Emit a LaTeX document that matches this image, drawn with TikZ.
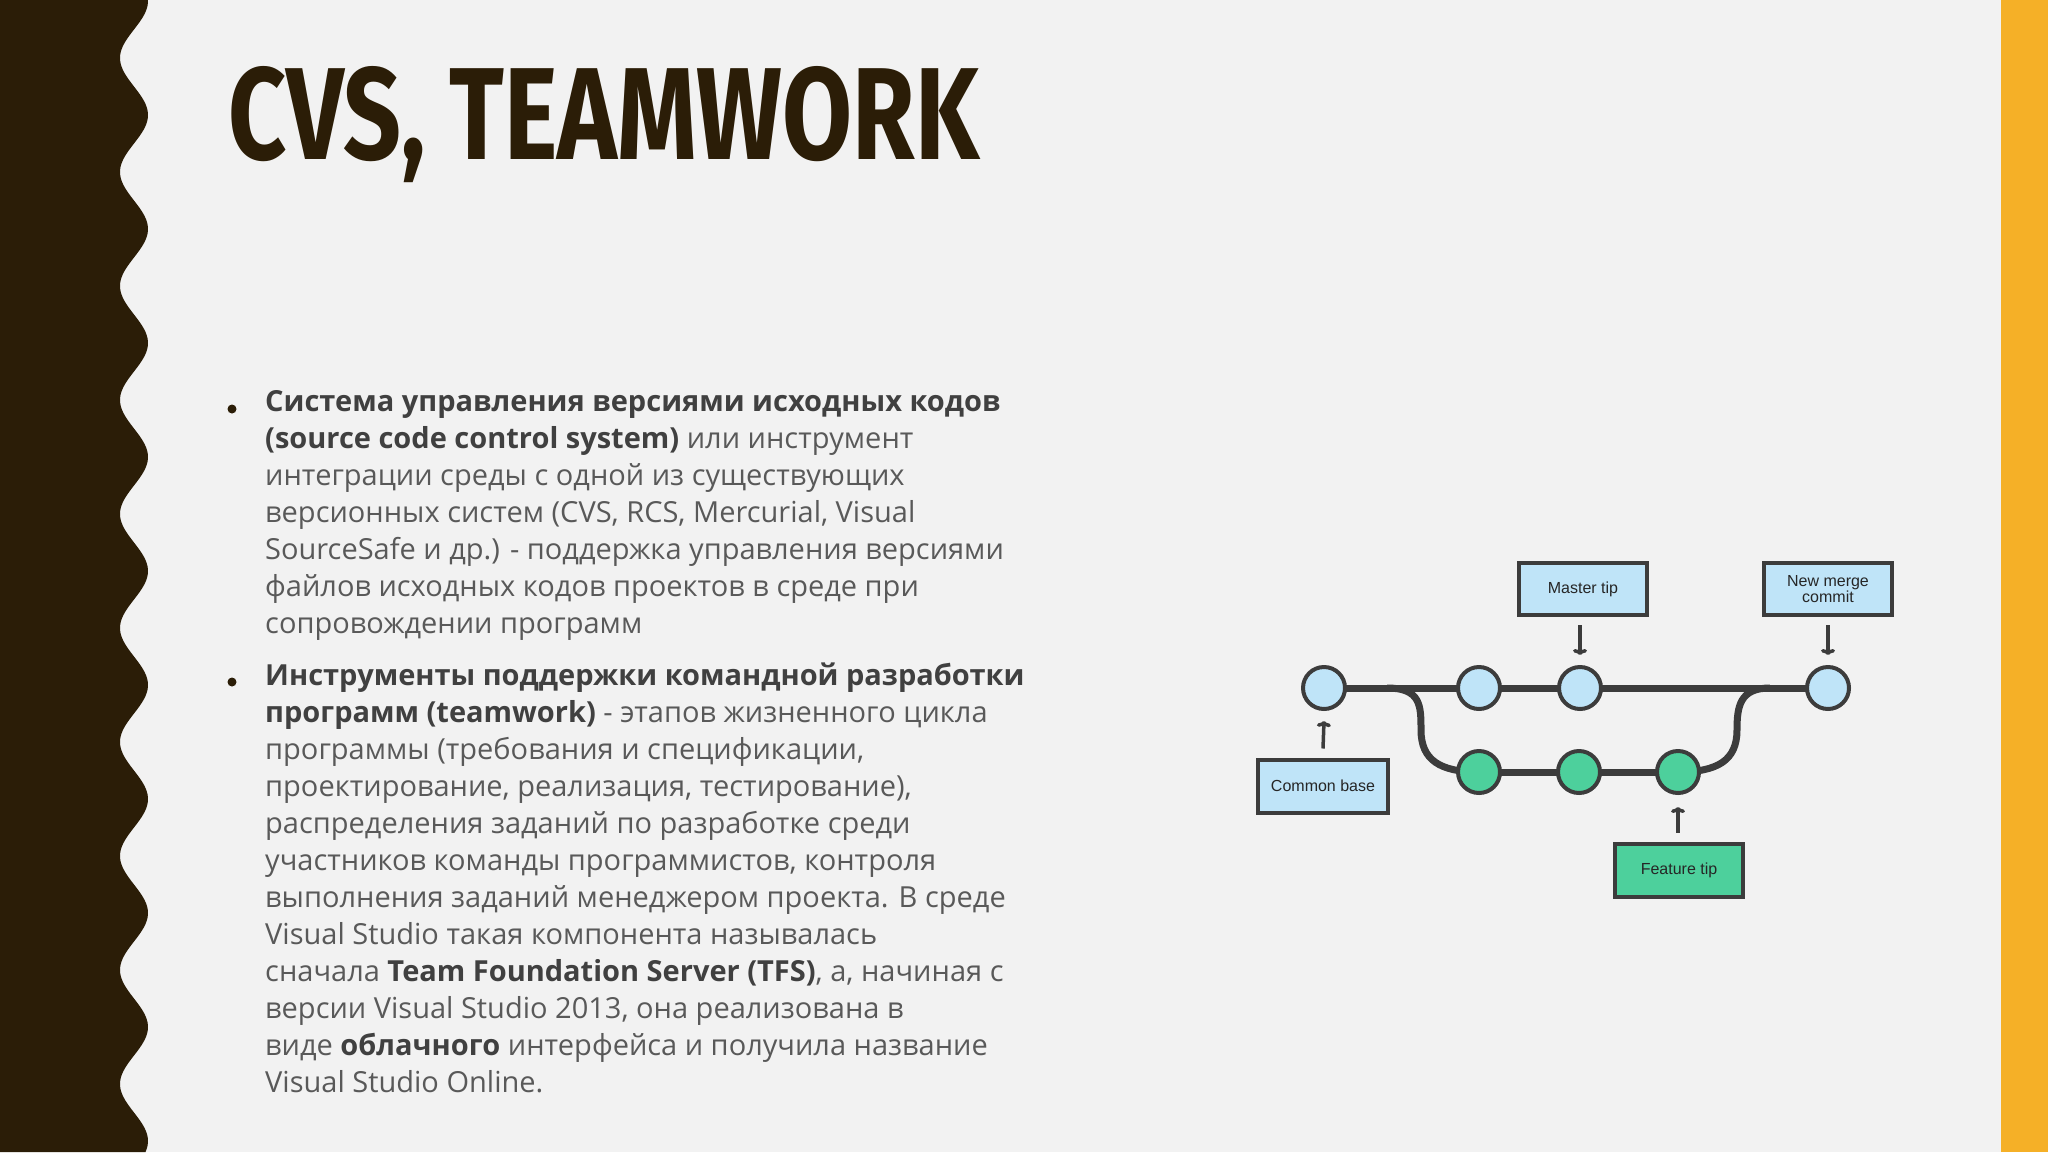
\documentclass[tikz,border=0pt]{standalone}
\usepackage{fontspec}
\usetikzlibrary{arrows.meta}
\setmainfont{Open Sans}
\newfontfamily\titlefont{Fira Sans}
\newfontfamily\labfont{Liberation Sans}
\begin{document}
\begin{tikzpicture}[x=1pt,y=-1pt]
\definecolor{bg}{HTML}{F2F2F2}
\definecolor{dark}{HTML}{2B1D07}
\definecolor{gold}{HTML}{F5B027}
\definecolor{txt}{HTML}{595959}
\definecolor{txtb}{HTML}{404040}
\definecolor{lblue}{HTML}{BFE4F8}
\definecolor{lgreen}{HTML}{4DD09C}
\definecolor{ln}{HTML}{3C3C3C}
\tikzset{
 commit/.style={circle,draw=ln,line width=4pt,minimum size=42pt,inner sep=0pt},
 mc/.style={commit,fill=lblue},
 fc/.style={commit,fill=lgreen},
 lab/.style={draw=ln,line width=4pt,inner sep=0pt,font=\labfont\fontsize{16}{18}\selectfont,align=center,text=black!85},
 branch/.style={draw=ln,line width=7pt},
 ptr/.style={draw=ln,line width=3.5pt,-{To[length=6pt,width=14pt]}},
 body/.style={anchor=north west,align=left,text=txt,font=\fontsize{29}{37}\selectfont,inner sep=0pt}
}
\fill[bg] (0,0) rectangle (2048,1152);
\useasboundingbox (0,0) rectangle (2048,1152);
\fill[gold] (2001,0) rectangle (2048,1152);
\fill[dark] (0,0) -- plot[domain=0:1152,samples=400] ({134+14*cos(3.15789*(\x-115))},\x) -- (0,1152) -- cycle;
\node[anchor=center,text=dark] (title) at (604,125) {\resizebox{751pt}{93pt}{\titlefont\bfseries CVS, TEAMWORK}};
% bullets
\fill[dark] (232,409) circle (4.5);
\fill[dark] (232,682) circle (4.5);
\node[body] (b1) at (265,390) {\textbf{\color{txtb}Система управления версиями исходных кодов}\\
\textbf{\color{txtb}(source code control system)} или инструмент\\
интеграции среды с одной из существующих\\
версионных систем (CVS, RCS, Mercurial, Visual\\
SourceSafe и др.) - поддержка управления версиями\\
файлов исходных кодов проектов в среде при\\
сопровождении программ};
\node[body] (b2) at (265,663) {\textbf{\color{txtb}Инструменты поддержки командной разработки}\\
\textbf{\color{txtb}программ (teamwork)} - этапов жизненного цикла\\
программы (требования и спецификации,\\
проектирование, реализация, тестирование),\\
распределения заданий по разработке среди\\
участников команды программистов, контроля\\
выполнения заданий менеджером проекта. В среде\\
Visual Studio такая компонента называлась\\
сначала \textbf{\color{txtb}Team Foundation Server (TFS)}, а, начиная с\\
версии Visual Studio 2013, она реализована в\\
виде \textbf{\color{txtb}облачного} интерфейса и получила название\\
Visual Studio Online.};
% git diagram
\coordinate (s1) at (1387,688);
\coordinate (m1) at (1770,688);
\path[branch] (1324,688) -- (1828,688);
\path[branch] (s1) .. controls (1421,688) and (1421,706) .. (1421,730) .. controls (1421,760) and (1440,772) .. (1479,772);
\path[branch] (1479,772) -- (1678,772);
\path[branch] (1678,772) .. controls (1718,772) and (1737,760) .. (1737,730) .. controls (1737,706) and (1740,688) .. (m1);
\node[mc] (c0) at (1324,688) {};
\node[mc] (c1) at (1479,688) {};
\node[mc] (c2) at (1580,688) {};
\node[mc] (c3) at (1828,688) {};
\node[fc] (f1) at (1479,772) {};
\node[fc] (f2) at (1579,772) {};
\node[fc] (f3) at (1678,772) {};
\node[lab,fill=lblue,minimum width=128pt,minimum height=52pt] (mt) at (1583,589) {Master tip};
\node[lab,fill=lblue,minimum width=128pt,minimum height=52pt] (nm) at (1828,589) {New merge\\[-2pt]commit};
\node[lab,fill=lblue,minimum width=130pt,minimum height=53pt] (cb) at (1323,786) {Common base};
\node[lab,fill=lgreen,minimum width=128pt,minimum height=53pt] (ft) at (1679,870) {Feature tip};
\draw[ptr] ([yshift=-8pt]mt.south -| c2) -- ([yshift=10pt]c2.north);
\draw[ptr] ([yshift=-8pt]nm.south) -- ([yshift=10pt]c3.north);
\draw[ptr] ([yshift=9pt]cb.north) -- ([yshift=-10pt]c0.south);
\draw[ptr] ([yshift=9pt]ft.north -| f3) -- ([yshift=-12pt]f3.south);
\end{tikzpicture}
\end{document}
